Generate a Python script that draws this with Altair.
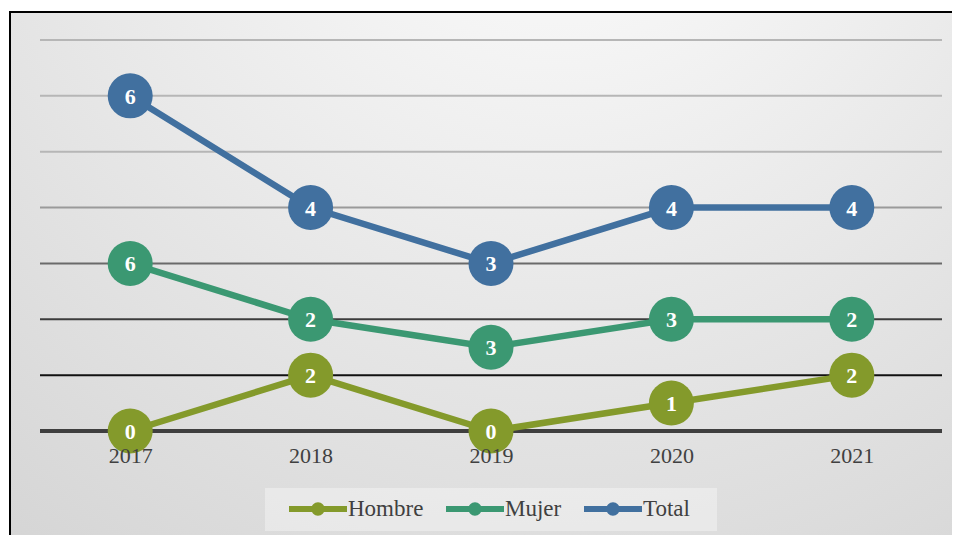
import altair as alt
import pandas as pd

years = ["2017", "2018", "2019", "2020", "2021"]
hombre = [0, 2, 0, 1, 2]
mujer = [6, 2, 3, 3, 2]
total = [6, 4, 3, 4, 4]
series = ["Hombre", "Mujer", "Total"]
colors = ["#849a2b", "#3b9872", "#41709f"]

grid_vals = [0, 2, 4, 6, 8, 10, 12, 14]
grid_cols = ["#3f3f3f", "#111111", "#3c3c3c", "#6a6a6a", "#9a9a9a", "#b6b6b6", "#b6b6b6", "#b6b6b6"]
grid_w = [4, 2, 2, 2, 2, 2, 2, 2]

rows = []
for i, y in enumerate(years):
    for k, (name, vals) in enumerate(zip(series, [hombre, mujer, total])):
        rows.append({"year": y, "serie": name, "value": vals[i], "ord": k})
df = pd.DataFrame(rows)
grid = pd.DataFrame({"g": grid_vals, "c": grid_cols, "w": grid_w})

W, H = 902, 391
FONT = "Liberation Serif"

one = pd.DataFrame({"a": [0]})
bg = alt.Chart(one).mark_rect(
    color={"gradient": "radial", "x1": 0.58, "y1": 0.0, "x2": 0.58, "y2": 0.0,
           "r1": 0, "r2": 1.05,
           "stops": [{"offset": 0, "color": "#ffffff"},
                     {"offset": 1, "color": "#d2d2d2"}]},
).encode(x=alt.value(-31), x2=alt.value(912), y=alt.value(-29), y2=alt.value(495))

border_left = alt.Chart(one).mark_rule(color="#000000", strokeWidth=2).encode(
    x=alt.value(-30), y=alt.value(-29), y2=alt.value(495))
border_top = alt.Chart(one).mark_rule(color="#000000", strokeWidth=2).encode(
    x=alt.value(-31), x2=alt.value(912), y=alt.value(-28))

legbg = alt.Chart(one).mark_rect(
    color="#ffffff", opacity=0.35
).encode(x=alt.value(225), x2=alt.value(677), y=alt.value(448), y2=alt.value(491))

rules = alt.Chart(grid).mark_rule().encode(
    y=alt.Y("g:Q", scale=alt.Scale(domain=[0, 14]), axis=None),
    color=alt.Color("c:N", scale=None),
    strokeWidth=alt.StrokeWidth("w:Q", scale=None),
)

base = alt.Chart(df).transform_stack(
    stack="value", groupby=["year"], as_=["y0", "y1"],
    sort=[alt.SortField("ord", order="ascending")]
)
xenc = alt.X("year:N", scale=alt.Scale(paddingInner=0, paddingOuter=0),
             axis=alt.Axis(title=None, domain=False, ticks=False, labelAngle=0,
                           labelFont=FONT, labelFontSize=22, labelColor="#404040",
                           labelPadding=14, grid=False, zindex=1))
yenc = alt.Y("y1:Q", scale=alt.Scale(domain=[0, 14]), axis=None)
cscale = alt.Scale(domain=series, range=colors)

lines = base.mark_line(strokeWidth=6.5).encode(
    x=xenc, y=yenc, stroke=alt.Stroke("serie:N", scale=cscale, legend=None),
    detail="serie:N", order="year:N")

sym = "M-1,-0.1H1V0.1H-1Z M0.23,0A0.23,0.23 0 1 1 -0.23,0A0.23,0.23 0 1 1 0.23,0Z"
points = base.mark_point(filled=True, size=2025, opacity=1).encode(
    x=xenc, y=yenc,
    color=alt.Color("serie:N", scale=cscale, legend=alt.Legend(
        title=None, orient="none", legendX=249, legendY=440, direction="horizontal",
        symbolType=sym, symbolSize=3364, symbolStrokeWidth=0, symbolOpacity=1,
        labelFont=FONT, labelFontSize=23, labelColor="#404040", labelOffset=1,
        columnPadding=22, padding=0, zindex=1)))

labels = base.mark_text(color="white", font=FONT, fontSize=22, fontWeight="bold",
                        baseline="middle", dy=1).encode(
    x=xenc, y=yenc, text="value:Q")

chart = alt.layer(bg, border_left, border_top, legbg, rules, lines, points, labels).properties(
    width=W, height=H,
    autosize=alt.AutoSizeParams(type="none"),
    padding={"left": 32, "top": 32, "right": 10, "bottom": 104},
).configure_view(stroke=None)

chart.save("out.html", embed_options={"renderer": "svg", "actions": False})
